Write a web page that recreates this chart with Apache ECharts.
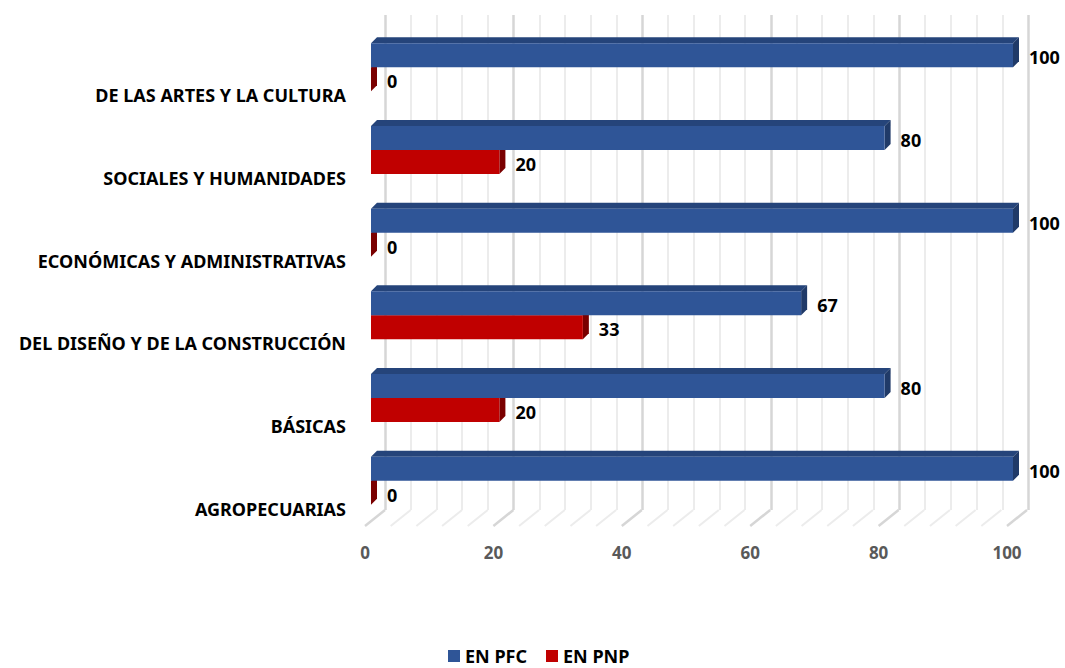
<!DOCTYPE html>
<html>
<head>
<meta charset="utf-8">
<script src="https://cdn.jsdelivr.net/npm/echarts@6/dist/echarts.min.js"></script>
<style>
	html, body { margin: 0; padding: 0; background: #fff; }
	#chart { width: 1065px; height: 668px; }
</style>
</head>
<body>
<div id="chart"></div>
<script>
var categories = ['DE LAS ARTES Y LA CULTURA', 'SOCIALES Y HUMANIDADES', 'ECONÓMICAS Y ADMINISTRATIVAS', 'DEL DISEÑO Y DE LA CONSTRUCCIÓN', 'BÁSICAS', 'AGROPECUARIAS'];
var pfc = [100, 80, 100, 67, 80, 100];
var pnp = [0, 20, 0, 33, 20, 0];
var xTicks = [0, 20, 40, 60, 80, 100];
var minorStep = 4;

var fontName = 'Noto Sans';
var depth = 6; //bar depth in px

// floor lines, one per grid line (major + minor)
var floorTicks = [];
for (var t = xTicks[0]; t <= xTicks[xTicks.length - 1]; t += minorStep) {
	floorTicks.push([t, t % 20 == 0 ? 1 : 0]);
}

function barRender(colors, below) {
	return function(params, api) {
		var cat = api.value(1);
		var v = api.value(0);
		var start = api.coord([0, cat]);
		var end = api.coord([v, cat]);
		var band = api.size([0, 1])[1];
		var h = band * 0.29;
		var x0 = start[0];
		var w = end[0] - start[0];
		var y0 = below ? start[1] : start[1] - h;
		var d = depth;
		return {
			type: 'group',
			children: [{
				type: 'polygon',
				shape: { points: [[x0, y0], [x0 + w, y0], [x0 + w + d, y0 - d], [x0 + d, y0 - d]] },
				style: { fill: colors[1] }
			}, {
				type: 'polygon',
				shape: { points: [[x0 + w, y0], [x0 + w + d, y0 - d], [x0 + w + d, y0 + h - d], [x0 + w, y0 + h]] },
				style: { fill: colors[2] }
			}, {
				type: 'rect',
				shape: { x: x0, y: y0, width: w, height: h },
				style: { fill: colors[0] }
			}, {
				type: 'text',
				x: x0 + w + 16,
				y: y0 + h / 2 + 2,
				style: {
					text: String(v),
					fill: '#000',
					font: 'bold 18px "' + fontName + '"',
					verticalAlign: 'middle',
					align: 'left'
				}
			}]
		};
	};
}

var myChart = echarts.init(document.getElementById('chart'), null, { renderer: 'svg' });
var option = {
	backgroundColor: '#fff',
	animation: false,
	textStyle: { fontFamily: fontName },
	legend: {
		top: 642,
		left: 443,
		itemWidth: 12,
		itemHeight: 12,
		itemGap: 19,
		icon: 'rect',
		textStyle: { color: '#000', fontWeight: 'bold', fontSize: 18, lineHeight: 14, fontFamily: fontName },
		data: [
			{ name: 'EN PFC', itemStyle: { color: '#2F5597' } },
			{ name: 'EN PNP', itemStyle: { color: '#C00000' } }
		]
	},
	grid: [
		{ left: 371, right: 52, top: 26, bottom: 146 },
		{ left: 385, right: 37, top: 15, bottom: 158 },
		// category labels sit lower than the bars (3D front edge)
		{ left: 371, right: 52, top: 54, bottom: 118 }
	],
	xAxis: [{
		gridIndex: 0,
		type: 'value',
		min: 0,
		max: 100,
		interval: 20,
		axisLine: { show: false },
		axisTick: { show: false },
		splitLine: { show: false },
		axisLabel: {
			margin: 22,
			padding: [0, 12, 0, 0],
			color: '#595959',
			fontWeight: 'bold',
			fontSize: 17,
			fontFamily: fontName
		}
	}, {
		gridIndex: 1,
		type: 'value',
		min: 0,
		max: 100,
		interval: 20,
		axisLine: { show: false },
		axisTick: { show: false },
		axisLabel: { show: false },
		splitLine: { show: true, lineStyle: { color: '#D6D6D6', width: 2.5 } },
		minorTick: { show: false, splitNumber: 5 },
		minorSplitLine: { show: true, lineStyle: { color: '#ECECEC', width: 2 } }
	}, {
		gridIndex: 2,
		type: 'value',
		min: 0,
		max: 100,
		show: false
	}],
	yAxis: [{
		gridIndex: 0,
		type: 'category',
		inverse: true,
		data: categories,
		axisLine: { show: false },
		axisTick: { show: false },
		splitLine: { show: false },
		axisLabel: { show: false }
	}, {
		gridIndex: 1,
		type: 'category',
		data: categories,
		show: false
	}, {
		gridIndex: 2,
		type: 'category',
		inverse: true,
		data: categories,
		axisLine: { show: false },
		axisTick: { show: false },
		splitLine: { show: false },
		axisLabel: {
			margin: 25,
			color: '#000',
			fontWeight: 'bold',
			fontSize: 18,
			fontFamily: fontName
		}
	}],
	series: [{
		name: 'floor',
		type: 'custom',
		xAxisIndex: 0,
		yAxisIndex: 0,
		silent: true,
		z: 1,
		data: floorTicks,
		renderItem: function(params, api) {
			var x = api.coord([api.value(0), 0])[0];
			var bottom = params.coordSys.y + params.coordSys.height;
			var major = api.value(1) == 1;
			return {
				type: 'line',
				shape: { x1: x - 6, y1: bottom + 4, x2: x + 14, y2: bottom - 12 },
				style: { stroke: major ? '#D6D6D6' : '#ECECEC', lineWidth: major ? 2.5 : 2 }
			};
		}
	}, {
		name: 'EN PNP',
		type: 'custom',
		xAxisIndex: 0,
		yAxisIndex: 0,
		z: 2,
		itemStyle: { color: '#C00000' },
		data: pnp.map(function(v, i) { return [v, i]; }),
		renderItem: barRender(['#C00000', '#8B0000', '#7A0000'], true)
	}, {
		name: 'EN PFC',
		type: 'custom',
		xAxisIndex: 0,
		yAxisIndex: 0,
		z: 3,
		itemStyle: { color: '#2F5597' },
		data: pfc.map(function(v, i) { return [v, i]; }),
		renderItem: barRender(['#2F5597', '#25447A', '#203A68'], false)
	}]
};
myChart.setOption(option);
</script>
</body>
</html>
